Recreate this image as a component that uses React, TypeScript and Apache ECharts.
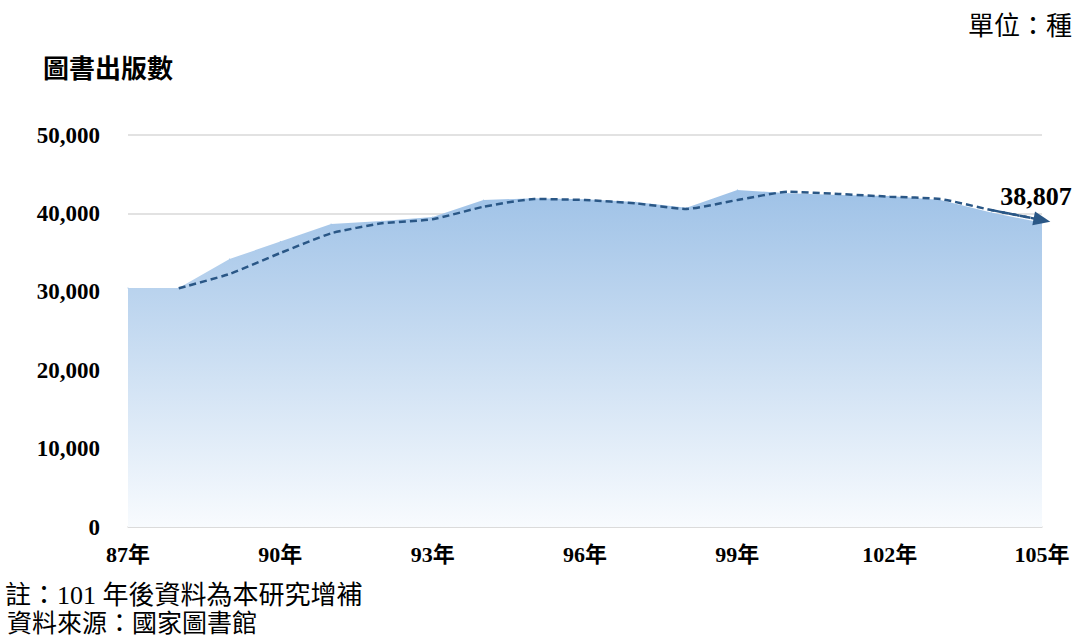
import React, { useEffect, useRef } from "react";
import * as echarts from "echarts";

const years = ["87年", "88年", "89年", "90年", "91年", "92年", "93年", "94年", "95年", "96年", "97年", "98年", "99年", "100年", "101年", "102年", "103年", "104年", "105年"];
const publications = [30480, 30480, 34180, 36420, 38650, 39030, 39540, 41710, 41930, 41800, 41450, 40730, 43000, 42560, 42350, 42220, 41710, 40100, 38807];
const trend = [null, 30450, 32270, 34950, 37460, 38740, 39250, 40850, 41840, 41710, 41280, 40560, 41710, 42770, 42480, 42130, 41840, 40430, 39150];
const titleText = "圖書出版數";
const unitText = "單位：種";
const noteText = "註：101 年後資料為本研究增補";
const sourceText = "資料來源：國家圖書館";

export default function App() {
  const ref = useRef<HTMLDivElement>(null);
  useEffect(() => {
    if (!ref.current) return;
    const chart = echarts.init(ref.current, null, { renderer: "svg" });
    const last = publications.length - 1;
    const fmt = (v: number) => v.toLocaleString("en-US");
    chart.setOption({
      animation: false,
      backgroundColor: "#ffffff",
      grid: { left: 128, right: 33, top: 135, bottom: 109 },
      xAxis: {
        type: "category",
        data: years,
        boundaryGap: false,
        axisTick: { show: false },
        axisLine: { lineStyle: { color: "#d9d9d9", width: 1.5 } },
        axisLabel: {
          interval: 2,
          margin: 16,
          fontFamily: "Liberation Serif, Noto Sans CJK TC",
          fontWeight: "bold",
          fontSize: 22,
          color: "#000",
        },
      },
      yAxis: {
        type: "value",
        min: 0,
        max: 50000,
        interval: 10000,
        axisLine: { show: false },
        axisTick: { show: false },
        splitLine: { lineStyle: { color: "#d9d9d9", width: 1.5 } },
        axisLabel: {
          margin: 28,
          formatter: (v: number) => fmt(v),
          fontFamily: "Liberation Serif",
          fontWeight: "bold",
          fontSize: 23,
          color: "#000",
        },
      },
      series: [
        {
          type: "line",
          data: publications.map((v, i) =>
            i === last
              ? {
                  value: v,
                  label: {
                    show: true,
                    position: "top",
                    distance: 13,
                    offset: [-6, 0],
                    formatter: (p: any) => fmt(p.value),
                    fontFamily: "Liberation Serif",
                    fontWeight: "bold",
                    fontSize: 26,
                    color: "#000",
                  },
                }
              : v
          ),
          symbol: "circle",
          symbolSize: 1,
          showSymbol: true,
          lineStyle: { width: 0, color: "#a3c5e8" },
          itemStyle: { color: "#a3c5e8" },
          areaStyle: {
            opacity: 1,
            color: new echarts.graphic.LinearGradient(0, 0, 0, 1, [
              { offset: 0, color: "#9fc2e7" },
              { offset: 1, color: "#f8fbfe" },
            ]),
          },
          z: 2,
        },
        {
          type: "line",
          data: trend,
          smooth: 0.15,
          symbol: "none",
          lineStyle: { color: "#2a5786", width: 2.5, type: [7, 4] },
          z: 3,
          markLine: {
            silent: true,
            symbol: ["none", "triangle"],
            symbolSize: [14, 17],
            label: { show: false },
            lineStyle: { color: "#2a5786", width: 2.5, type: [7, 4] },
            itemStyle: { color: "#2a5786" },
            data: [
              [
                { coord: [years[last - 1], trend[last - 1]] },
                { coord: [years[last], trend[last]] },
              ],
            ],
          },
        },
      ],
      graphic: [
        {
          type: "text",
          left: 43,
          top: 53,
          style: {
            text: titleText,
            fontFamily: "Noto Sans CJK TC",
            fontWeight: "bold",
            fontSize: 26,
            fill: "#000",
          },
        },
        {
          type: "text",
          x: 1072,
          y: 26,
          style: {
            text: unitText,
            align: "right",
            verticalAlign: "middle",
            fontFamily: "Liberation Serif, Noto Sans CJK TC",
            fontSize: 26,
            fill: "#000",
          },
        },
        {
          type: "text",
          x: 5,
          y: 595,
          style: {
            text: noteText,
            verticalAlign: "middle",
            fontFamily: "Liberation Serif, Noto Sans CJK TC",
            fontSize: 26,
            fill: "#000",
          },
        },
        {
          type: "text",
          x: 7,
          y: 623,
          style: {
            text: sourceText,
            verticalAlign: "middle",
            fontFamily: "Liberation Serif, Noto Sans CJK TC",
            fontSize: 25,
            fill: "#000",
          },
        },
      ],
    });
    return () => chart.dispose();
  }, []);
  return (
    <div
      ref={ref}
      style={{ position: "fixed", left: 0, top: 0, width: 1075, height: 636 }}
    />
  );
}
